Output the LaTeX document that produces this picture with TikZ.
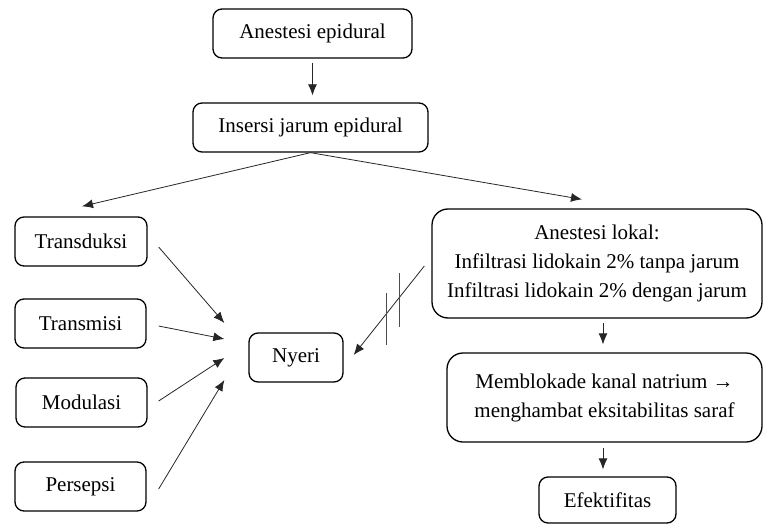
\documentclass[tikz,border=0pt]{standalone}
\usepackage{fontspec}
\setmainfont{Liberation Serif}
\usepackage{tikz}
\usetikzlibrary{calc,arrows.meta}

\tikzset{
  box/.style={draw, rounded corners=9pt, line width=1.3pt, align=center,
    inner sep=0pt, font=\fontsize{21}{29}\selectfont},
  bigbox/.style={box, rounded corners=16pt},
  arr/.style={->, >={Latex[length=11pt, width=9pt]}, line width=0.8pt, black!85},
}

\begin{document}
\begin{tikzpicture}[x=1pt, y=-1pt]
  \useasboundingbox (0,0) rectangle (765,524);

  \node[box, minimum width=199pt, minimum height=49pt]
    (epi) at (312.5, 33.5) {Anestesi epidural};

  \node[box, minimum width=235pt, minimum height=49pt]
    (ins) at (310.5, 127.5) {Insersi jarum epidural};

  \node[box, minimum width=132pt, minimum height=49pt]
    (trd) at (81, 241.5) {Transduksi};

  \node[box, minimum width=131pt, minimum height=49pt]
    (trm) at (80.5, 323.5) {Transmisi};

  \node[box, minimum width=131pt, minimum height=49pt]
    (mod) at (81.5, 402.5) {Modulasi};

  \node[box, minimum width=131pt, minimum height=49pt]
    (per) at (80.5, 486.5) {Persepsi};

  \node[box, minimum width=94pt, minimum height=49pt]
    (nye) at (296, 357.5) {Nyeri};

  \node[bigbox, minimum width=330pt, minimum height=109pt]
    (lok) at (597, 263.5) {Anestesi lokal:\\Infiltrasi lidokain 2\% tanpa jarum\\Infiltrasi lidokain 2\% dengan jarum};

  \node[bigbox, minimum width=315pt, minimum height=89pt]
    (blk) at (604.5, 397.5) {Memblokade kanal natrium →\\menghambat eksitabilitas saraf};

  \node[box, minimum width=137pt, minimum height=46pt]
    (efk) at (607.5, 500) {Efektifitas};

  \draw[arr] ($(epi.south)+(0,4)$) -- ($(epi.south |- ins.north)+(0,-7)$);

  \draw[arr] (ins.south) -- ($(trd.north)+(1,-10)$);
  \draw[arr] (ins.south) -- ($(lok.north)+(-15,-9)$);

  \draw[arr] ($(trd.east)+(11,5.5)$) -- ($(nye.west)+(-24,-34.5)$);
  \draw[arr] ($(trm.east)+(12,2.5)$) -- ($(nye.west)+(-24,-18.5)$);
  \draw[arr] ($(mod.east)+(11,-1.5)$) -- ($(nye.west)+(-24,0.5)$);
  \draw[arr] ($(per.east)+(12,2.5)$) -- ($(nye.west)+(-24,22.5)$);

  \draw[arr] ($(lok.west)+(-7,2.5)$) -- coordinate[pos=0.36] (cut1)
    coordinate[pos=0.54] (cut2) ($(nye.east)+(10,-2.5)$);

  % double bar on the inhibiting arrow
  \draw[line width=0.8pt, black!70]
    ($(cut1)+(0,-25)$) -- ($(cut1)+(0,29)$)
    ($(cut2)+(0,-21)$) -- ($(cut2)+(0,31)$);

  \draw[arr] ($(lok.south)+(6,4)$) -- ($(blk.north)+(-1.5,-8)$);
  \draw[arr] ($(blk.south)+(-1.5,5)$) -- ($(efk.north)+(-4.5,-7)$);
\end{tikzpicture}
\end{document}
